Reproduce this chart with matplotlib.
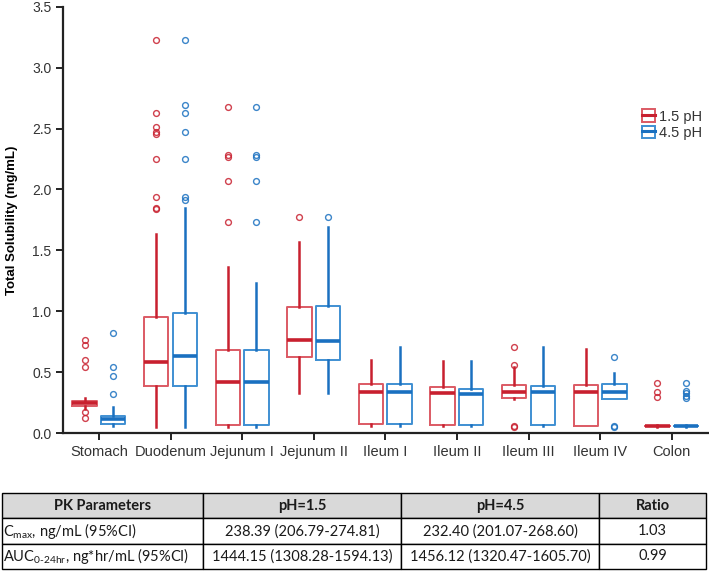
import numpy as np
import matplotlib
matplotlib.use('Agg')
import matplotlib.pyplot as plt
from matplotlib.patches import Patch
from matplotlib.lines import Line2D

# Data
regions = ['Stomach', 'Duodenum', 'Jejunum I', 'Jejunum II', 'Ileum I',
           'Ileum II', 'Ileum III', 'Ileum IV', 'Colon']

# pH 1.5
ph15_q1 = [0.222, 0.39, 0.066, 0.622, 0.074, 0.066, 0.29, 0.055, 0.055]
ph15_med = [0.244, 0.583, 0.416, 0.760, 0.334, 0.326, 0.337, 0.334, 0.055]
ph15_q3 = [0.263, 0.95, 0.68, 1.038, 0.40, 0.38, 0.394, 0.394, 0.055]
ph15_lo = [0.20, 0.05, 0.05, 0.33, 0.06, 0.06, 0.28, 0.055, 0.05]
ph15_hi = [0.285, 1.635, 1.366, 1.567, 0.60, 0.59, 0.54, 0.688, 0.065]
ph15_out = [
    [0.76, 0.72, 0.60, 0.545, 0.175, 0.126],
    [3.23, 2.63, 2.51, 2.47, 2.457, 2.25, 1.94, 1.846, 1.838],
    [2.676, 2.28, 2.265, 2.07, 1.736],
    [1.775],
    [],
    [],
    [0.706, 0.556, 0.058, 0.05],
    [],
    [0.41, 0.337, 0.293],
]

# pH 4.5
ph45_q1 = [0.074, 0.39, 0.066, 0.60, 0.07, 0.066, 0.063, 0.282, 0.055]
ph45_med = [0.112, 0.635, 0.42, 0.753, 0.334, 0.32, 0.337, 0.337, 0.055]
ph45_q3 = [0.142, 0.983, 0.68, 1.046, 0.40, 0.359, 0.386, 0.40, 0.055]
ph45_lo = [0.057, 0.05, 0.05, 0.326, 0.06, 0.06, 0.06, 0.28, 0.05]
ph45_hi = [0.216, 1.846, 1.23, 1.69, 0.704, 0.59, 0.706, 0.496, 0.065]
ph45_out = [
    [0.82, 0.54, 0.47, 0.32],
    [3.23, 2.69, 2.63, 2.47, 2.25, 1.94, 1.915],
    [2.676, 2.28, 2.27, 2.07, 1.736],
    [1.775],
    [],
    [],
    [],
    [0.625, 0.058, 0.05],
    [0.41, 0.345, 0.326, 0.306, 0.288],
]

# PK table
table_cols = ['PK Parameters', 'pH=1.5', 'pH=4.5', 'Ratio']
table_rows = [
    [r'C$_{\mathregular{max}}$, ng/mL (95%CI)', '238.39 (206.79-274.81)',
     '232.40 (201.07-268.60)', '1.03'],
    [r'AUC$_{\mathregular{0\text{-}24hr}}$, ng*hr/mL (95%CI)', '1444.15 (1308.28-1594.13)',
     '1456.12 (1320.47-1605.70)', '0.99'],
]

RED, RED_BOX = '#c8202f', '#dc5a64'
BLUE, BLUE_BOX = '#1a70c0', '#3f8fd2'

plt.rcParams['font.family'] = ['Liberation Sans', 'DejaVu Sans']


def make_stats(q1, med, q3, lo, hi, out):
    return [dict(q1=a, med=b, q3=c, whislo=d, whishi=e, fliers=f)
            for a, b, c, d, e, f in zip(q1, med, q3, lo, hi, out)]


fig = plt.figure(figsize=(7.09, 5.72), dpi=100)
ax = fig.add_axes([0.089, 0.243, 0.909, 0.745])

pos = np.arange(len(regions))
for stats, off, col, boxcol in [
        (make_stats(ph15_q1, ph15_med, ph15_q3, ph15_lo, ph15_hi, ph15_out), -0.2, RED, RED_BOX),
        (make_stats(ph45_q1, ph45_med, ph45_q3, ph45_lo, ph45_hi, ph45_out), 0.2, BLUE, BLUE_BOX)]:
    ax.bxp(stats, positions=pos + off, widths=0.34, showcaps=False, patch_artist=False,
           boxprops=dict(color=boxcol, linewidth=1.4),
           whiskerprops=dict(color=col, linewidth=1.8),
           medianprops=dict(color=col, linewidth=2.6),
           flierprops=dict(marker='o', markerfacecolor='none', markeredgecolor=col,
                           markersize=4.2, markeredgewidth=1.0, alpha=0.85))

ax.set_xlim(-0.5, len(regions) - 0.5)
ax.set_ylim(0, 3.5)
ax.set_yticks(np.arange(0, 3.51, 0.5))
ax.set_yticklabels([f'{v:.1f}' for v in np.arange(0, 3.51, 0.5)])
ax.set_xticks(pos)
ax.set_xticklabels(regions)
ax.tick_params(axis='both', colors='#222222', labelcolor='#333333', labelsize=10.5,
               width=1.4, length=5)
ax.tick_params(axis='y', labelsize=10)
for s in ['top', 'right']:
    ax.spines[s].set_visible(False)
for s in ['left', 'bottom']:
    ax.spines[s].set_linewidth(1.6)
    ax.spines[s].set_color('#222222')
ax.set_ylabel('Total Solubility (mg/mL)', fontsize=9.5, fontweight='bold', labelpad=10)

handles = []
for col, boxcol in [(RED, RED_BOX), (BLUE, BLUE_BOX)]:
    handles.append((Patch(facecolor='none', edgecolor=boxcol, linewidth=1.4),
                    Line2D([0], [0], color=col, linewidth=2.2)))
ax.legend(handles, ['1.5 pH', '4.5 pH'], loc='upper right', bbox_to_anchor=(1.012, 0.79),
          frameon=False, fontsize=10.5, handlelength=0.9, handleheight=0.9,
          handletextpad=0.3, labelspacing=0.15, labelcolor='#333333')

# table below
tax = fig.add_axes([0.003, 0.005, 0.993, 0.133])
tax.axis('off')
plt.rcParams['mathtext.fontset'] = 'custom'
plt.rcParams['mathtext.rm'] = 'Lato'
tbl = tax.table(cellText=table_rows, colLabels=table_cols, bbox=[0, 0, 1, 1],
                colWidths=[0.286, 0.281, 0.281, 0.152], cellLoc='center')
tbl.auto_set_font_size(False)
for (r, c), cell in tbl.get_celld().items():
    cell.set_edgecolor('black')
    cell.set_linewidth(1.0)
    txt = cell.get_text()
    txt.set_fontfamily('Lato')
    txt.set_fontsize(10.5)
    txt.set_color('#1a1a1a')
    if r == 0:
        cell.set_facecolor('#d9d9d9')
        txt.set_fontweight('bold')
    if r > 0 and c == 0:
        cell.set_text_props(ha='left')
        cell.PAD = 0.005

fig.savefig('out.png', dpi=100)
